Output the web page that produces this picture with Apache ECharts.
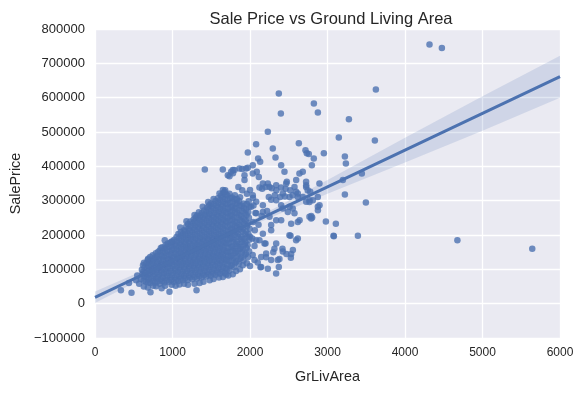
<!DOCTYPE html>
<html>
<head>
<meta charset="utf-8">
<script src="https://cdn.jsdelivr.net/npm/echarts@6/dist/echarts.min.js"></script>
<style>html,body{margin:0;padding:0;background:#fff}#c{width:585px;height:393px}</style>
</head>
<body>
<div id="c"></div>
<script>
// ---- data ----
const chartTitle = 'Sale Price vs Ground Living Area';
const xName = 'GrLivArea';
const yName = 'SalePrice';
const xTicks = [0, 1000, 2000, 3000, 4000, 5000, 6000];
const yTicks = [-100000, 0, 100000, 200000, 300000, 400000, 500000, 600000, 700000, 800000];

// dense core of the cloud: [GrLivArea, SalePrice]
const corePoints = [
[590,72000],[612,86000],[605,99000],[620,112000],
[655,64000],[668,78000],[650,91000],[672,104000],[660,118000],[680,127000],
[715,60000],[725,74000],[710,87000],[730,100000],[720,113000],[735,125000],[712,136000],
[775,61000],[788,73000],[770,86000],[792,98000],[780,110000],[795,122000],[772,134000],[785,147000],
[835,58000],[848,71000],[830,84000],[852,96000],[840,108000],[855,119000],[832,131000],[846,143000],[838,155000],[850,162000],
[895,62000],[908,75000],[890,88000],[912,100000],[900,112000],[915,124000],[893,136000],[905,148000],[898,160000],[910,170000],
[955,64000],[968,77000],[950,90000],[972,103000],[960,116000],[975,128000],[952,140000],[966,152000],[958,165000],[970,177000],
[1015,63000],[1028,76000],[1010,89000],[1032,101000],[1020,113000],[1035,125000],[1012,137000],[1026,149000],[1018,161000],[1030,173000],[1022,186000],
[1075,66000],[1088,79000],[1070,92000],[1092,105000],[1080,117000],[1095,129000],[1072,141000],[1086,153000],[1078,165000],[1090,177000],[1082,190000],[1076,203000],
[1135,68000],[1148,81000],[1130,94000],[1152,107000],[1140,119000],[1155,131000],[1132,143000],[1146,155000],[1138,167000],[1150,179000],[1142,192000],[1136,204000],[1148,214000],
[1195,69000],[1208,82000],[1190,95000],[1212,108000],[1200,120000],[1215,132000],[1192,144000],[1206,156000],[1198,168000],[1210,180000],[1202,193000],[1196,205000],[1208,218000],[1200,232000],
[1255,71000],[1268,84000],[1250,97000],[1272,110000],[1260,122000],[1275,134000],[1252,146000],[1266,158000],[1258,170000],[1270,182000],[1262,195000],[1256,208000],[1268,221000],[1260,234000],[1272,245000],
[1315,73000],[1328,86000],[1310,99000],[1332,112000],[1320,124000],[1335,136000],[1312,148000],[1326,160000],[1318,172000],[1330,184000],[1322,197000],[1316,210000],[1328,223000],[1320,236000],[1332,249000],[1318,257000],
[1375,76000],[1388,89000],[1370,102000],[1392,115000],[1380,127000],[1395,139000],[1372,151000],[1386,163000],[1378,175000],[1390,187000],[1382,200000],[1376,213000],[1388,226000],[1380,239000],[1392,252000],[1378,264000],
[1435,79000],[1448,92000],[1430,105000],[1452,118000],[1440,130000],[1455,142000],[1432,154000],[1446,166000],[1438,178000],[1450,190000],[1442,203000],[1436,216000],[1448,229000],[1440,242000],[1452,255000],[1438,268000],[1445,280000],
[1495,81000],[1508,94000],[1490,107000],[1512,120000],[1500,132000],[1515,144000],[1492,156000],[1506,168000],[1498,180000],[1510,192000],[1502,205000],[1496,218000],[1508,231000],[1500,244000],[1512,257000],[1498,270000],[1505,283000],[1495,292000],
[1555,84000],[1568,97000],[1550,110000],[1572,123000],[1560,135000],[1575,147000],[1552,159000],[1566,171000],[1558,183000],[1570,195000],[1562,208000],[1556,221000],[1568,234000],[1560,247000],[1572,260000],[1558,273000],[1565,286000],[1555,299000],
[1615,87000],[1628,100000],[1610,113000],[1632,126000],[1620,138000],[1635,150000],[1612,162000],[1626,174000],[1618,186000],[1630,198000],[1622,211000],[1616,224000],[1628,237000],[1620,250000],[1632,263000],[1618,276000],[1625,289000],[1615,302000],[1628,315000],
[1675,90000],[1688,103000],[1670,116000],[1692,129000],[1680,141000],[1695,153000],[1672,165000],[1686,177000],[1678,189000],[1690,201000],[1682,214000],[1676,227000],[1688,240000],[1680,253000],[1692,266000],[1678,279000],[1685,292000],[1675,305000],[1688,318000],[1680,330000],
[1735,96000],[1748,110000],[1730,124000],[1752,138000],[1740,151000],[1755,164000],[1732,177000],[1746,190000],[1738,203000],[1750,216000],[1742,229000],[1736,242000],[1748,255000],[1740,268000],[1752,281000],[1738,294000],[1745,307000],[1735,320000],
[1795,106000],[1808,120000],[1790,134000],[1812,148000],[1800,161000],[1815,174000],[1792,187000],[1806,200000],[1798,213000],[1810,226000],[1802,239000],[1796,252000],[1808,265000],[1800,278000],[1812,291000],[1798,304000],[1805,316000],
[1855,116000],[1868,131000],[1850,146000],[1872,160000],[1860,174000],[1875,188000],[1852,202000],[1866,216000],[1858,230000],[1870,244000],[1862,258000],[1856,272000],[1868,286000],[1860,299000],[1872,310000],
[1915,126000],[1928,142000],[1910,158000],[1932,173000],[1920,188000],[1935,203000],[1912,218000],[1926,233000],[1918,248000],[1930,263000],[1922,278000],[1916,292000],
[1975,136000],[1988,153000],[1970,170000],[1992,186000],[1980,202000],[1995,218000],[1972,234000],[1986,250000],[1978,266000],[1990,282000],[1982,298000],
[2035,142000],[2058,168000],[2030,190000],[2062,214000],[2040,238000],[2070,264000],[2045,286000],[2038,308000]
];

// more core points lying between the columns above
const corePoints2 = [
[628,67000],[636,80000],[624,93000],[640,106000],[632,119000],
[688,62000],[695,71000],[684,84000],[698,97000],[690,110000],[700,121000],[686,131000],
[748,67000],[756,80000],[742,93000],[760,106000],[750,118000],[762,130000],[745,141000],
[806,65000],[815,78000],[802,91000],[820,103000],[810,115000],[822,127000],[804,139000],[816,151000],
[866,65000],[875,78000],[862,91000],[880,103000],[870,115000],[882,127000],[864,139000],[876,151000],[868,164000],
[926,68000],[935,81000],[922,94000],[940,106000],[930,118000],[942,130000],[924,142000],[936,154000],[928,166000],[938,175000],
[986,70000],[995,83000],[982,96000],[1000,109000],[990,121000],[1002,133000],[984,145000],[996,157000],[988,169000],[998,181000],
[1046,70000],[1055,83000],[1042,96000],[1060,109000],[1050,121000],[1062,133000],[1044,145000],[1056,157000],[1048,169000],[1058,181000],[1052,194000],
[1106,73000],[1115,86000],[1102,99000],[1120,112000],[1110,124000],[1122,136000],[1104,148000],[1116,160000],[1108,172000],[1118,185000],[1112,197000],[1106,209000],
[1166,75000],[1175,88000],[1162,101000],[1180,114000],[1170,126000],[1182,138000],[1164,150000],[1176,162000],[1168,174000],[1178,187000],[1172,199000],[1166,211000],[1176,224000],
[1226,76000],[1235,89000],[1222,102000],[1240,115000],[1230,127000],[1242,139000],[1224,151000],[1236,163000],[1228,175000],[1238,188000],[1232,200000],[1226,213000],[1236,226000],[1230,239000],
[1286,78000],[1295,91000],[1282,104000],[1300,117000],[1290,129000],[1302,141000],[1284,153000],[1296,165000],[1288,177000],[1298,190000],[1292,202000],[1286,215000],[1296,228000],[1290,241000],[1300,251000],
[1346,80000],[1355,93000],[1342,106000],[1360,119000],[1350,131000],[1362,143000],[1344,155000],[1356,167000],[1348,180000],[1358,192000],[1352,205000],[1346,218000],[1356,231000],[1350,244000],[1360,257000],
[1406,83000],[1415,96000],[1402,109000],[1420,122000],[1410,134000],[1422,146000],[1404,158000],[1416,170000],[1408,183000],[1418,195000],[1412,208000],[1406,221000],[1416,234000],[1410,247000],[1420,259000],[1408,271000],
[1466,86000],[1475,99000],[1462,112000],[1480,125000],[1470,137000],[1482,149000],[1464,161000],[1476,173000],[1468,186000],[1478,198000],[1472,211000],[1466,224000],[1476,237000],[1470,250000],[1480,262000],[1468,275000],[1474,287000],
[1526,88000],[1535,101000],[1522,114000],[1540,127000],[1530,139000],[1542,151000],[1524,163000],[1536,175000],[1528,188000],[1538,200000],[1532,213000],[1526,226000],[1536,239000],[1530,252000],[1540,265000],[1528,278000],[1534,290000],
[1586,91000],[1595,104000],[1582,117000],[1600,130000],[1590,142000],[1602,154000],[1584,166000],[1596,178000],[1588,191000],[1598,203000],[1592,216000],[1586,229000],[1596,242000],[1590,255000],[1600,268000],[1588,281000],[1594,294000],[1586,307000],
[1646,94000],[1655,107000],[1642,120000],[1660,133000],[1650,145000],[1662,157000],[1644,169000],[1656,181000],[1648,194000],[1658,206000],[1652,219000],[1646,232000],[1656,245000],[1650,258000],[1660,271000],[1648,284000],[1654,297000],[1646,310000],[1656,322000],
[1706,100000],[1715,113000],[1702,126000],[1720,139000],[1710,151000],[1722,163000],[1704,175000],[1716,187000],[1708,200000],[1718,212000],[1712,225000],[1706,238000],[1716,251000],[1710,264000],[1720,277000],[1708,290000],[1714,303000],[1706,316000],
[1766,112000],[1775,126000],[1762,140000],[1780,154000],[1770,167000],[1782,180000],[1764,193000],[1776,206000],[1768,219000],[1778,232000],[1772,245000],[1766,258000],[1776,271000],[1770,284000],[1780,297000],[1768,309000],
[1826,123000],[1835,138000],[1822,153000],[1840,167000],[1830,181000],[1842,195000],[1824,209000],[1836,223000],[1828,237000],[1838,251000],[1832,265000],[1826,279000],[1836,293000],[1830,305000],
[1886,134000],[1895,150000],[1882,165000],[1900,180000],[1890,195000],[1902,210000],[1884,225000],[1896,240000],[1888,255000],[1898,270000],[1892,285000],
[1946,145000],[1955,162000],[1942,178000],[1960,194000],[1950,210000],[1962,226000],[1944,242000],[1956,258000],[1948,274000],[1958,290000]
];

// scattered points around the cloud and outliers: [GrLivArea, SalePrice]
const sparsePoints = [
[334,39300],[438,60000],[471,32000],[531,68000],[545,82000],[570,58000],[630,50000],[682,47000],[716,33000],[750,52000],
[789,51000],[860,45000],[905,52000],[961,35000],[990,55000],[1040,52000],[1090,56000],[1150,58000],[1200,55000],[1285,58000],
[1310,39000],[1350,60000],[1400,64000],[1480,68000],[1530,72000],[1600,76000],[1650,78000],[1692,85000],[1720,82000],[1778,86000],
[1820,95000],[1870,100000],[1907,112000],[1960,118000],[2000,110000],[2058,127000],[2100,120000],[2144,107000],[2135,106000],[2230,102000],
[2144,136000],[2208,146000],[2273,127000],[2359,127000],[2337,88000],[2372,107000],[2380,130000],[2300,150000],[2338,175000],[2419,160000],
[2470,145000],[2527,134000],[2553,156000],[2523,198000],[2509,199000],[2595,185000],[2617,190000],[2200,175000],[2122,185000],[2080,185000],
[2166,204000],[2273,214000],[2187,175000],[900,185000],[983,180000],[1100,222000],[1180,240000],[1284,258000],[1340,266000],[1390,282000],
[1460,296000],[1530,305000],[1606,321000],[1650,331000],[1671,326000],[1714,374000],[1735,371000],[1757,384000],[1780,380000],[1800,389000],
[1778,389000],[1864,394000],[1900,392000],[1929,374000],[1929,360000],[1972,396000],[1950,393800],[2036,403000],[2036,379000],[2088,384000],
[2114,369000],[1850,340000],[1900,330000],[1960,320000],[2000,331000],[2036,316000],[1417,391000],[1649,391000],[2079,464000],[2294,452000],
[1972,440000],[2630,467000],[2716,447000],[2733,438000],[2823,423000],[2105,423000],[2131,413000],[2329,426000],[2402,403000],[2445,384000],
[2638,379000],[2681,384000],[2724,355000],[2896,350000],[2875,311000],[2230,350000],[2157,335000],[2475,355000],[2122,338000],[2200,340000],
[2280,336000],[2340,330000],[2400,338000],[2460,335000],[2520,330000],[2595,326000],[2243,311000],[2320,316000],[2390,311000],[2450,312000],
[2550,316000],[2617,311000],[2273,303000],[2724,340000],[2767,296000],[2745,330000],[2166,350000],[2252,340000],[2338,345000],[2467,350000],
[2574,340000],[2617,321000],[2424,321000],[2510,311000],[2338,301000],[2166,287000],[2080,297000],[2015,282000],[2080,263000],[2166,267000],
[2252,253000],[2338,243000],[2402,243000],[2510,282000],[2574,263000],[2617,238000],[2682,311000],[2725,297000],[2768,301000],[2789,248000],
[2897,287000],[2725,345000],[2596,360000],[2402,287000],[2423,277000],[2488,267000],[2552,277000],[2273,229000],[2531,233000],[2875,282000],
[2640,243000],[2767,253000],[2208,135000],[2315,160000],[2423,152000],[2531,145000],[2000,195000],[2110,230000],[2150,255000],[2220,270000],
[2953,438000],[2759,436000],[2798,403000],[2777,326000],[2811,301000],[2876,272000],[2790,255000],[2802,251000],
[2979,239000],[3108,233000],[3078,198000],[3082,196500],[3392,198000],[3198,360000],[3224,318000],[3495,295000],[3443,379000],
[3224,429000],[3237,408000],[3146,484000],[3276,537000],[2876,557000],[2824,583000],[2372,612000],[2398,554000],[2230,501000],
[3611,475000],[3624,624000],[4316,755000],[4476,745000],[4676,184750],[5642,160000]
];

// regression fit and confidence band
const fitX = [0, 1000, 1500, 2000, 3000, 4000, 5000, 6000];
const fitY = [18569, 125699, 179264, 232829, 339959, 447089, 554219, 661349];
const bandLow = [1600, 117700, 174300, 225800, 320000, 411000, 504000, 600000];
const bandHigh = [35600, 133700, 184300, 239800, 360000, 483000, 604000, 722000];

// ---- chart ----
const fontFam = '"Liberation Sans", Arial, sans-serif';
const blue = '#4C72B0';
const chart = echarts.init(document.getElementById('c'), null, {renderer: 'canvas'});
const fmtY = v => v < 0 ? '\u2212' + Math.abs(v) : String(v);

chart.setOption({
  animation: false,
  backgroundColor: '#ffffff',
  title: {
    text: chartTitle, left: 326, top: 6, textAlign: 'center',
    textStyle: {fontFamily: fontFam, fontSize: 16.5, fontWeight: 'normal', color: '#262626'}
  },
  grid: {left: 95, right: 25, top: 29, bottom: 55, show: true, backgroundColor: '#EAEAF2', borderWidth: 0},
  xAxis: {
    type: 'value', min: xTicks[0], max: xTicks[xTicks.length - 1], interval: 1000,
    name: xName, nameLocation: 'middle', nameGap: 32,
    nameTextStyle: {fontFamily: fontFam, fontSize: 14.4, color: '#262626'},
    axisLine: {show: false}, axisTick: {show: false},
    axisLabel: {fontFamily: fontFam, fontSize: 12, color: '#262626', margin: 9, formatter: v => String(v)},
    splitLine: {show: true, lineStyle: {color: '#ffffff', width: 1.3}}
  },
  yAxis: {
    type: 'value', min: yTicks[0], max: yTicks[yTicks.length - 1], interval: 100000,
    name: yName, nameLocation: 'middle', nameGap: 67,
    nameTextStyle: {fontFamily: fontFam, fontSize: 14.4, color: '#262626'},
    axisLine: {show: false}, axisTick: {show: false},
    axisLabel: {fontFamily: fontFam, fontSize: 13, color: '#262626', margin: 10, formatter: fmtY},
    splitLine: {show: true, lineStyle: {color: '#ffffff', width: 1.3}}
  },
  series: [
    {
      type: 'scatter', data: corePoints.concat(corePoints2, sparsePoints), symbolSize: 6.5,
      itemStyle: {color: blue, opacity: 0.8}, z: 2, silent: true
    },
    {
      type: 'custom', data: [[0, 0]], z: 3, silent: true,
      renderItem: function (params, api) {
        const pts = [];
        for (let i = 0; i < fitX.length; i++) pts.push(api.coord([fitX[i], bandHigh[i]]));
        for (let i = fitX.length - 1; i >= 0; i--) pts.push(api.coord([fitX[i], bandLow[i]]));
        return {type: 'polygon', shape: {points: pts}, style: {fill: 'rgba(76,114,176,0.17)'}};
      }
    },
    {
      type: 'line', data: fitX.map((x, i) => [x, fitY[i]]), symbol: 'none',
      lineStyle: {color: blue, width: 3}, z: 4, silent: true
    }
  ]
});
</script>
</body>
</html>
